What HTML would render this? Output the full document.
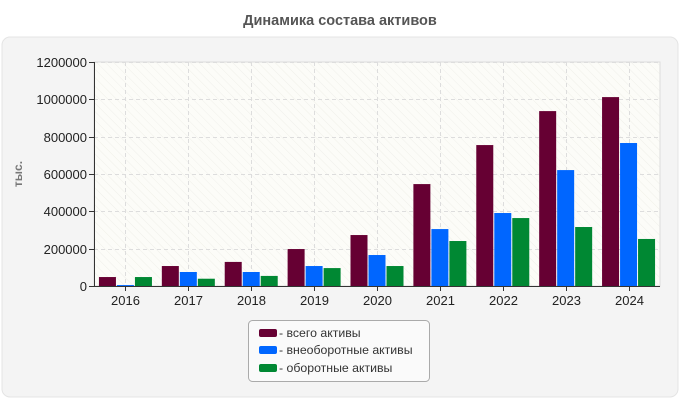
<!DOCTYPE html>
<html><head><meta charset="utf-8"><style>
body{margin:0;width:680px;height:400px;background:#fff;font-family:"Liberation Sans",sans-serif;overflow:hidden}
</style></head><body>
<svg width="680" height="400" xmlns="http://www.w3.org/2000/svg">
<defs>
<pattern id="hatch" width="6" height="6" patternUnits="userSpaceOnUse" patternTransform="rotate(-45)">
<rect width="6" height="6" fill="#fcfcf8"/><line x1="0" y1="0" x2="0" y2="6" stroke="#f0f0ea" stroke-width="1"/>
</pattern>
</defs>
<text x="340" y="25" text-anchor="middle" font-size="14.5" font-weight="bold" fill="#555">Динамика состава активов</text>
<rect x="2" y="37" width="676" height="360" rx="8" fill="#f4f4f4" stroke="#e4e4e4"/>
<rect x="94" y="62" width="566" height="224" fill="url(#hatch)" stroke="#ddd"/>
<g id="grid"></g>
<g id="bars"></g>
<g id="axes"></g>
<text x="22" y="174" transform="rotate(-90 22 174)" text-anchor="middle" font-size="12" font-weight="bold" fill="#777">тыс.</text>
<g>
<rect x="248.5" y="320.5" width="181" height="61" rx="4" fill="#fafafa" stroke="#aaa"/>
<rect x="259" y="329" width="18" height="8" rx="2" fill="#660033"/>
<text x="279" y="337" font-size="12.3" fill="#333">- всего активы</text>
<rect x="259" y="346" width="18" height="8" rx="2" fill="#0066ff"/>
<text x="279" y="354" font-size="12.3" fill="#333">- внеоборотные активы</text>
<rect x="259" y="364" width="18" height="8" rx="2" fill="#008833"/>
<text x="279" y="372" font-size="12.3" fill="#333">- оборотные активы</text>
</g>
</svg>
<script>
const categories=["2016","2017","2018","2019","2020","2021","2022","2023","2024"];
const totalAssets=[48000,107000,129000,198000,273000,546000,755000,937000,1012000];
const nonCurrentAssets=[5000,75000,75000,107000,166000,305000,391000,621000,766000];
const currentAssets=[48000,39000,54000,96000,107000,241000,364000,316000,252000];
const yTicks=[0,200000,400000,600000,800000,1000000,1200000];
const colors=["#660033","#0066ff","#008833"];
const names=["total","noncurrent","current"];
const X0=94,X1=660,Y0=286,Y1=62,YMAX=1200000;
const NS="http://www.w3.org/2000/svg";
const bw=(X1-X0)/categories.length;
function yS(v){return Y0-(v/YMAX)*(Y0-Y1);}
function xC(i){return X0+bw*(i+0.5);}
function mk(t,a,p){const e=document.createElementNS(NS,t);for(const k in a)e.setAttribute(k,a[k]);p.appendChild(e);return e;}
const grid=document.getElementById('grid'),bars=document.getElementById('bars'),axes=document.getElementById('axes');
yTicks.forEach(v=>{const y=Math.round(yS(v))+0.5;
if(v>0){const l=mk('line',{x1:X0,x2:X1,y1:y,y2:y,stroke:'#ddd','stroke-dasharray':'4,3'},grid);

}
const tk=mk('line',{x1:X0-5,x2:X0,y1:y,y2:y,stroke:'#333'},axes);


const t=mk('text',{x:X0-7,y:y+4.5,'text-anchor':'end','font-size':13,fill:'#222'},axes);t.textContent=v;

});
categories.forEach((c,i)=>{const x=Math.round(xC(i))+0.5;
const l=mk('line',{x1:x,x2:x,y1:Y1,y2:Y0,stroke:'#ddd','stroke-dasharray':'4,3'},grid);


const tk=mk('line',{x1:x,x2:x,y1:Y0,y2:Y0+5,stroke:'#333'},axes);


const t=mk('text',{x:x,y:Y0+19,'text-anchor':'middle','font-size':13,fill:'#222'},axes);t.textContent=c;


[totalAssets,nonCurrentAssets,currentAssets].forEach((s,j)=>{
const w=17,bx=xC(i)-26.5+j*18;const y=yS(s[i]);
const r=mk('rect',{x:bx,y:y,width:w,height:Y0-y,fill:colors[j]},bars);

});});
const ax=mk('path',{d:`M${X0+0.5},${Y1} V${Y0+0.5} H${X1}`,stroke:'#333',fill:'none'},axes);


</script>
</body></html>
